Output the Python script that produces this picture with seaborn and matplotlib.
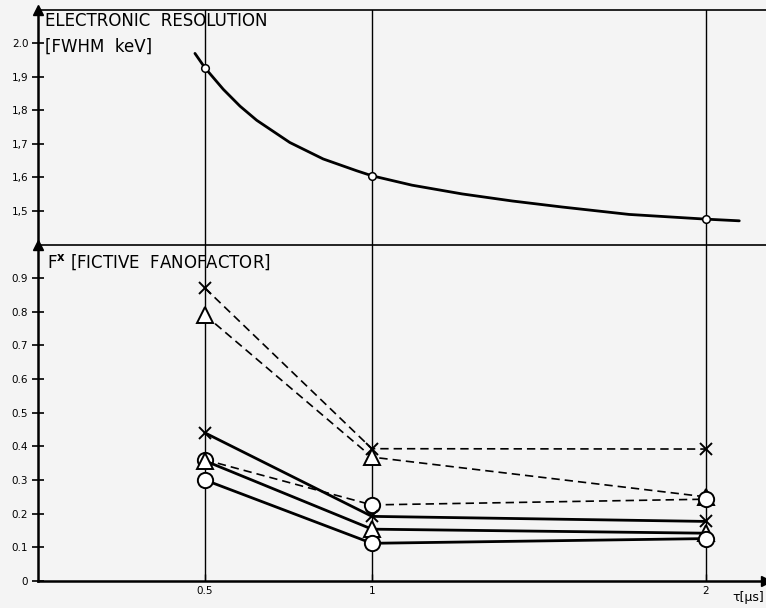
import matplotlib
matplotlib.use("Agg")
import matplotlib.pyplot as plt
import seaborn as sns

# shaping time tau [us]
tau = [0.5, 1, 2]

# electronic resolution curve
res_curve_x = [0.47, 0.5, 0.555, 0.605, 0.655, 0.754, 0.854, 0.954, 1.0,
               1.12, 1.27, 1.42, 1.57, 1.77, 2.0, 2.1]
res_curve_y = [1.969, 1.926, 1.862, 1.812, 1.770, 1.704, 1.655, 1.620, 1.605,
               1.577, 1.551, 1.530, 1.512, 1.490, 1.476, 1.471]
res_points = [1.926, 1.605, 1.476]

# fictive fano factor, dashed series
cross_dashed = [0.87, 0.393, 0.392]
tri_dashed = [0.79, 0.368, 0.25]
circ_dashed = [0.36, 0.226, 0.243]
# fictive fano factor, solid series
cross_solid = [0.44, 0.192, 0.177]
tri_solid = [0.357, 0.154, 0.142]
circ_solid = [0.30, 0.112, 0.126]

res_ticks = [1.5, 1.6, 1.7, 1.8, 1.9, 2.0]
res_ticklabels = ["1,5", "1,6", "1,7", "1,8", "1,9", "2.0"]
fano_ticks = [0, 0.1, 0.2, 0.3, 0.4, 0.5, 0.6, 0.7, 0.8, 0.9]
fano_ticklabels = ["0", "0.1", "0.2", "0.3", "0.4", "0.5", "0.6", "0.7", "0.8", "0.9"]

sns.set_style("ticks")
plt.rcParams["font.family"] = ["DejaVu Sans"]
plt.rcParams["text.color"] = "black"
plt.rcParams["xtick.color"] = "black"
plt.rcParams["ytick.color"] = "black"
plt.rcParams["axes.edgecolor"] = "black"
bg = "#f4f4f4"

fig = plt.figure(figsize=(7.66, 6.08), dpi=100, facecolor=bg)
ax1 = fig.add_axes([0.0496, 0.597, 0.9504, 0.3865], facecolor=bg)
ax2 = fig.add_axes([0.0496, 0.0444, 0.9504, 0.5526], facecolor=bg)

# upper panel
sns.lineplot(x=res_curve_x, y=res_curve_y, ax=ax1, color="k", linewidth=2.0, sort=False)
sns.scatterplot(x=tau, y=res_points, ax=ax1, marker="o", s=30, facecolor="white",
                edgecolor="k", linewidth=1.1, zorder=4)

# lower panel
dash = (0, (5, 3))
series = [
    (cross_dashed, "x", dash, 1.2),
    (tri_dashed, "^", dash, 1.2),
    (circ_dashed, "o", dash, 1.2),
    (cross_solid, "x", "-", 2.0),
    (tri_solid, "^", "-", 2.0),
    (circ_solid, "o", "-", 2.0),
]
for vals, mk, ls, lw in series:
    ms = 8 if mk == "x" else 11
    sns.lineplot(x=tau, y=vals, ax=ax2, color="k", linewidth=lw, linestyle=ls,
                 marker=mk, markersize=ms, markerfacecolor="white",
                 markeredgecolor="k", markeredgewidth=1.4)

for ax in (ax1, ax2):
    ax.set_xlim(0, 2.18)
    for xv in tau:
        ax.axvline(xv, color="k", linewidth=1.0, zorder=0)
    ax.spines["right"].set_visible(False)
    ax.spines["left"].set_linewidth(1.8)
    ax.spines["top"].set_linewidth(1.2)
    ax.tick_params(axis="y", direction="inout", length=8, width=1.2,
                   labelsize=7.5, pad=3)
    ax.plot([0], [1], marker="^", color="k", markersize=7,
            transform=ax.transAxes, clip_on=False)
    ax.set_xlabel("")
    ax.set_ylabel("")

ax1.set_ylim(1.399, 2.098)
ax1.spines["bottom"].set_visible(False)
ax1.set_xticks([])
ax1.set_yticks(res_ticks)
ax1.set_yticklabels(res_ticklabels)
ax1.text(0.01, 0.955, "ELECTRONIC  RESOLUTION", transform=ax1.transAxes,
         fontsize=12, va="center", ha="left")
ax1.text(0.01, 0.845, "[FWHM  keV]", transform=ax1.transAxes,
         fontsize=12, va="center", ha="left")

ax2.set_ylim(0, 0.998)
ax2.set_yticks(fano_ticks)
ax2.set_yticklabels(fano_ticklabels)
ax2.set_xticks(tau)
ax2.set_xticklabels(["0.5", "1", "2"])
ax2.tick_params(axis="x", direction="in", length=5, width=1.0, labelsize=7.5)
ax2.spines["bottom"].set_linewidth(1.8)
ax2.plot([1], [0], marker=">", color="k", markersize=7,
         transform=ax2.transAxes, clip_on=False)
ax2.text(0.012, 0.95, r"F$^{\mathbf{x}}$ [FICTIVE  FANOFACTOR]", transform=ax2.transAxes,
         fontsize=12, va="center", ha="left")

fig.text(0.997, 0.018, "τ[μs]", fontsize=9, ha="right", va="center")

fig.savefig("out.png", dpi=100, facecolor=bg)
